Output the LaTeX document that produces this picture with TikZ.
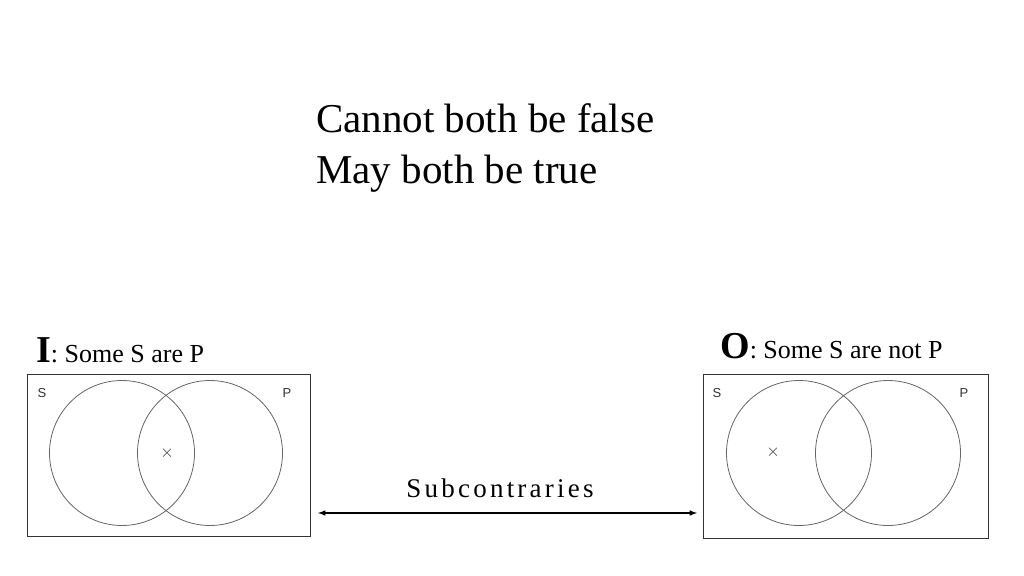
\documentclass[tikz,border=0pt]{standalone}
\usepackage{fontspec}
\setmainfont{Liberation Serif}
\newfontfamily\lsans{Liberation Sans}
\begin{document}
\begin{tikzpicture}[x=1pt,y=-1pt,
  box/.style={draw=black!80,line width=0.8pt},
  circ/.style={draw=black!60,line width=0.8pt},
  vlab/.style={font=\lsans\fontsize{13}{15}\selectfont,text=black!80},
  head/.style={font=\fontsize{26}{30}\selectfont,anchor=base west,inner sep=0}]
\useasboundingbox (0,0) rectangle (1024,575);
\node[font=\fontsize{41}{48}\selectfont,anchor=base west,inner sep=0] (t1) at (316,132) {Cannot both be false};
\node[font=\fontsize{41}{48}\selectfont,anchor=base west,inner sep=0] (t2) at (316,183) {May both be true};
% left
\node[head] (lh) at (36,362) {{\fontsize{38}{40}\selectfont\bfseries I}: Some S are P};
\draw[box] (27,374) rectangle (310,536);
\node[circ,circle,minimum size=145pt,inner sep=0] (ls) at (122,453) {};
\node[circ,circle,minimum size=145pt,inner sep=0] (lp) at (210,453) {};
\node[vlab] (lsl) at (42,393) {S};
\node[vlab] (lpl) at (287,393) {P};
\node[vlab,font=\lsans\fontsize{18}{20}\selectfont] (lx) at (167,453) {$\times$};
% right
\node[head] (rh) at (720,358) {{\fontsize{38}{40}\selectfont\bfseries O}: Some S are not P};
\draw[box] (703,374) rectangle (988,538);
\node[circ,circle,minimum size=145pt,inner sep=0] (rs) at (799,453) {};
\node[circ,circle,minimum size=145pt,inner sep=0] (rp) at (888,453) {};
\node[vlab] (rsl) at (717,393) {S};
\node[vlab] (rpl) at (964,393) {P};
\node[vlab,font=\lsans\fontsize{18}{20}\selectfont] (rx) at (773,452) {$\times$};
% arrow
\coordinate (a1) at (318,513);
\coordinate (a2) at (697,513);
\draw[line width=1.5pt,<->,>=latex] (a1) -- (a2);
\node[font=\fontsize{27}{30}\selectfont,anchor=base] (sub) at (500,497) {\addfontfeature{LetterSpace=12}Subcontraries};
\end{tikzpicture}
\end{document}
